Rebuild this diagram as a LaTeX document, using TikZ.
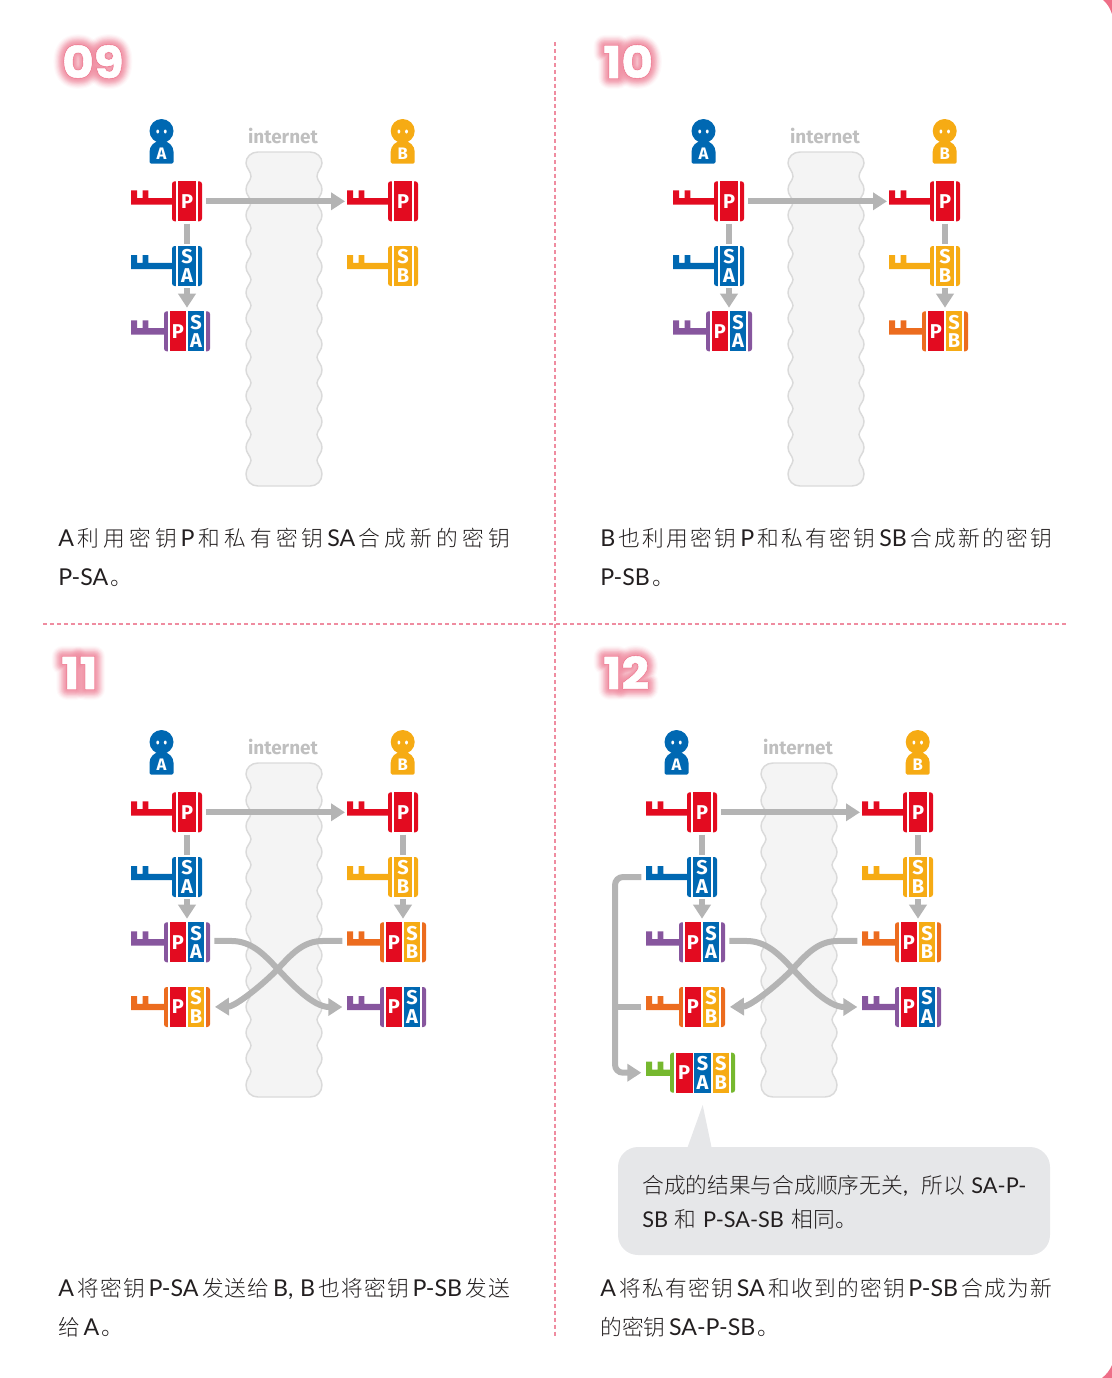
\documentclass[tikz,border=0pt]{standalone}
\usepackage{fontspec}
\usetikzlibrary{arrows.meta}
\setmainfont{Noto Sans CJK SC Light}
\newfontfamily\keyfont{Fira Sans}
\newfontfamily\numfont{Poppins}
\newfontfamily\latfont{Lato}
\XeTeXlinebreaklocale "zh"
\XeTeXlinebreakskip=0pt plus 12pt

\definecolor{kred}{HTML}{E30B20}
\definecolor{kblue}{HTML}{0068B2}
\definecolor{kyellow}{HTML}{F6AB14}
\definecolor{kpurple}{HTML}{87569E}
\definecolor{korange}{HTML}{EC6C1F}
\definecolor{kgreen}{HTML}{76B82F}
\definecolor{flowgray}{HTML}{B4B4B4}
\definecolor{cloudfill}{HTML}{F4F4F4}
\definecolor{cloudline}{HTML}{DADADA}
\definecolor{dashpink}{HTML}{EF8CA0}
\definecolor{cornerpink}{HTML}{EE6F88}
\definecolor{bubblegray}{HTML}{E6E7E9}
\definecolor{inktext}{HTML}{231F20}

\tikzset{
  keyhead/.style={inner sep=0pt, minimum height=30pt, rounded corners=2pt},
  keyseg/.style={inner sep=0pt, minimum height=30pt, text=white, align=center,
    font=\keyfont\bfseries\fontsize{15}{14}\selectfont},
  flowline/.style={draw=flowgray, line width=4.5pt},
  flowarrow/.style={flowline, -{Triangle[length=10.5pt,width=12.8pt]}},
  bodytext/.style={inner sep=0pt, anchor=base west, text=inktext,
    font=\fontsize{16.3}{16.3}\selectfont},
  nettext/.style={inner sep=0pt, text=flowgray!85,
    font=\keyfont\bfseries\fontsize{14.2}{14.2}\selectfont},
  persontext/.style={inner sep=0pt, text=white,
    font=\keyfont\bfseries\fontsize{12.5}{12.5}\selectfont},
  numtext/.style={inner sep=0pt, anchor=base west,
    font=\numfont\bfseries\fontsize{33}{33}\selectfont\addfontfeature{FakeStretch=1.1,FakeBold=#1}},
}

\newcommand{\mykey}[9]{
  \begin{scope}[shift={(#2,#3)}]
    \coordinate (#1-bit) at (0,0);
    \fill[#4] (0,3.2) -- (0,-11) -- (6,-11) -- (6,-3.2) -- (11.7,-3.2) -- (11.7,-11)
      -- (17.3,-11) -- (17.3,-3.2) -- (#5+1,-3.2) -- (#5+1,3.2) -- cycle;
    \node[keyhead, fill=#4, minimum width=#6*0.75pt] (#1) at (#5+#6/2,0) {};
    \fill[white] ({#5+#6/2-(#8*#7+(#8+1)*1.6)/2},-20.5) rectangle ({#5+#6/2+(#8*#7+(#8+1)*1.6)/2},20.5);
    \foreach \segcol/\segtxt [count=\segi] in {#9}
      \node[keyseg, fill=\segcol, minimum width=#7*0.75pt] (#1-\segi)
        at ({#5+#6/2+(\segi-(#8+1)/2)*(#7+1.6)},0) {\segtxt};
  \end{scope}
}
\newcommand{\keyone}[5]{\mykey{#1}{#2}{#3}{#4}{41}{30}{18.7}{1}{#5}}
\newcommand{\keytwo}[5]{\mykey{#1}{#2}{#3}{#4}{33}{46}{16.6}{2}{#5}}
\newcommand{\keythree}[5]{\mykey{#1}{#2}{#3}{#4}{24}{65}{16.8}{3}{#5}}

\newcommand{\person}[4]{
  \begin{scope}[shift={(#2,0)}]
    \fill[#3] (0,131) circle (12);
    \fill[#3, rounded corners=1pt] (-12,163.5) -- (-12,153) .. controls (-12,146) and (-7,141) .. (0,141)
      .. controls (7,141) and (12,146) .. (12,153) -- (12,163.5) -- cycle;
    \fill[white] (-3.8,131.5) ellipse (1.4 and 2) (3.8,131.5) ellipse (1.4 and 2);
    \node[persontext] (#1) at (0,154) {#4};
  \end{scope}
}

\newcommand{\cloudbox}{
  \draw[draw=cloudline, fill=cloudfill, line width=1.1pt]
    (258,152) -- (310,152) .. controls (317,152) and (322,157) .. (322,163)
    .. controls (322,168) and (317,171) .. (317,176.5)
    \foreach \k in {0,...,10}{
      .. controls (317.5,{176.5+\k*25.8+5}) and (322,{176.5+\k*25.8+7}) .. (322,{176.5+\k*25.8+12.9})
      .. controls (322,{176.5+\k*25.8+19}) and (317.5,{176.5+\k*25.8+21}) .. (317,{176.5+\k*25.8+25.8})
    }
    .. controls (317,464) and (322,468) .. (322,474) .. controls (322,481) and (317,486) .. (310,486)
    -- (258,486) .. controls (251,486) and (246,481) .. (246,474)
    .. controls (246,468) and (251,464) .. (251,460.3)
    \foreach \k in {0,...,10}{
      .. controls (250.5,{460.3-\k*25.8-5}) and (246,{460.3-\k*25.8-7}) .. (246,{460.3-\k*25.8-12.9})
      .. controls (246,{460.3-\k*25.8-19}) and (250.5,{460.3-\k*25.8-21}) .. (251,{460.3-\k*25.8-25.8})
    }
    .. controls (251,171) and (246,168) .. (246,163) .. controls (246,157) and (251,152) .. (258,152) -- cycle;
}

% cloud, people and the keys every panel has
\newcommand{\panelbase}[1]{
  \cloudbox
  \node[nettext] (#1-net) at (283,136) {internet};
  \person{#1-pa}{161.5}{kblue}{A}
  \person{#1-pb}{402.7}{kyellow}{B}
  \keyone{#1-ap}{131}{201.3}{kred}{kred/P}
  \keyone{#1-asa}{131}{266}{kblue}{kblue/{S\\A}}
  \keyone{#1-bp}{347}{201.3}{kred}{kred/P}
  \keyone{#1-bsb}{347}{266}{kyellow}{kyellow/{S\\B}}
  \keytwo{#1-apsa}{131}{331.3}{kpurple}{kred/P,kblue/{S\\A}}
  \draw[flowarrow, shorten <=3pt, shorten >=1.5pt] (#1-ap.east) -- (#1-bp-bit);
  \draw[flowline, shorten <=1.5pt, shorten >=1.5pt] (#1-ap.south) -- (#1-asa.north);
  \draw[flowarrow, shorten <=1.5pt, shorten >=2.5pt] (#1-asa.south) -- (#1-apsa.north);
}
\newcommand{\panelright}[1]{
  \keytwo{#1-bpsb}{347}{331.3}{korange}{kred/P,kyellow/{S\\B}}
  \draw[flowline, shorten <=1.5pt, shorten >=1.5pt] (#1-bp.south) -- (#1-bsb.north);
  \draw[flowarrow, shorten <=1.5pt, shorten >=2.5pt] (#1-bsb.south) -- (#1-bpsb.north);
}
\newcommand{\panelcross}[1]{
  \keytwo{#1-apsb}{131}{396}{korange}{kred/P,kyellow/{S\\B}}
  \keytwo{#1-bpsa}{347}{396}{kpurple}{kred/P,kblue/{S\\A}}
  \coordinate (#1-mid) at (277.7,358);
  \draw[flowarrow, shorten <=3pt, shorten >=3.5pt] ([yshift=1pt]#1-apsa.east) -- ++(21,0)
    .. controls +(20,0) and +(-14,-15) .. (#1-mid) .. controls +(14,15) and +(-34,0) .. (#1-bpsa-bit);
  \draw[flowarrow, shorten <=3.5pt, shorten >=3.5pt] ([yshift=1pt]#1-bpsb-bit) -- ++(-24,0)
    .. controls +(-20,0) and +(14,-15) .. (#1-mid) .. controls +(-14,15) and +(25,-0.5) .. (#1-apsb.east);
}
\newcommand{\numtitle}[4]{
  \begin{scope}[line join=round]
    \foreach \glowb in {50,45,40,35,30,26,22,18,14,10,6}
      \node[numtext=\glowb, text=dashpink, opacity=0.05+0.006*(50-\glowb)] at (#2,#3) {#4};
    \node[numtext=3.6, text=cornerpink] at (#2,#3) {#4};
    \node[numtext=1.2, text=white] (#1) at (#2,#3) {#4};
  \end{scope}
}
\newcommand{\la}[1]{{\latfont\fontsize{17.4}{16.3}\selectfont #1}}
\newcommand{\lc}[1]{{\latfont #1}}
\newcommand{\fullline}[1]{\parbox[t]{339pt}{\parfillskip=0pt\relax #1}}

\begin{document}
\begin{tikzpicture}[x=0.75pt, y=-0.75pt]
  \useasboundingbox (0,0) rectangle (1112,1378);

  \fill[cornerpink] (1103,0) .. controls (1107,3) and (1110,8) .. (1112,14) -- (1112,0) -- cycle;
  \fill[cornerpink] (1102,1378) .. controls (1106,1375) and (1110,1370) .. (1112,1365) -- (1112,1378) -- cycle;

  \draw[dashpink, line width=1pt, dash pattern=on 3pt off 2.2pt] (555,42) -- (555,1338);
  \draw[dashpink, line width=1pt, dash pattern=on 3pt off 2.2pt] (43,624) -- (1068,624);

  % 09
  \numtitle{n9}{62}{78}{09}
  \panelbase{s9}
  \node[bodytext] (t9a) at (58,546.5) {\fullline{\la{A}\,利用密钥\,\la{P}\,和私有密钥\,\la{SA}\,合成新的密钥}};
  \node[bodytext] (t9b) at (58,585) {\la{P-SA}\hspace{2pt}。};

  % 10
  \numtitle{n10}{603}{78}{10}
  \begin{scope}[shift={(542,0)}]
    \panelbase{s10}
    \panelright{s10}
  \end{scope}
  \node[bodytext] (t10a) at (600,546.5) {\fullline{\la{B}\,也利用密钥\,\la{P}\,和私有密钥\,\la{SB}\,合成新的密钥}};
  \node[bodytext] (t10b) at (600,585) {\la{P-SB}\hspace{2pt}。};

  % 11
  \numtitle{n11}{61}{689}{11}
  \begin{scope}[shift={(0,611)}]
    \panelbase{s11}
    \panelright{s11}
    \panelcross{s11}
  \end{scope}
  \node[bodytext] (t11a) at (58,1296.5) {\fullline{\la{A}\,将密钥\,\la{P-SA}\,发送给\,\la{B,}\hspace{5pt}\la{B}\,也将密钥\,\la{P-SB}\,发送}};
  \node[bodytext] (t11b) at (58,1335) {给\,\la{A}\hspace{2pt}。};

  % 12
  \numtitle{n12}{603}{689}{12}
  \begin{scope}[shift={(515,611)}]
    \panelbase{s12}
    \panelright{s12}
    \panelcross{s12}
    \keythree{s12-apsab}{131}{461.7}{kgreen}{kred/P,kblue/{S\\A},kyellow/{S\\B}}
    \coordinate (s12-rail) at (100,396);
    \draw[flowarrow, rounded corners=6pt, shorten <=3.5pt, shorten >=3.5pt] (s12-asa-bit) -- ++(-31,0) |- (s12-apsab-bit);
    \draw[flowline, shorten <=3.5pt] (s12-apsb-bit) -- (s12-rail);
  \end{scope}
  \node[fill=bubblegray, inner sep=0pt, minimum width=324pt, minimum height=81pt, rounded corners=15pt] (bubble) at (834,1201) {};
  \fill[bubblegray] (702.7,1105) -- (711.7,1148) -- (687.3,1148) -- cycle;
  \node[bodytext] (t12c) at (642,1193) {合成的结果与合成顺序无关\lc{,}\hspace{10pt}所以\hspace{5pt}\lc{SA-P-}};
  \node[bodytext] (t12d) at (642,1227.5) {\lc{SB}\hspace{5pt}和\hspace{5pt}\lc{P-SA-SB}\hspace{6pt}相同。};
  \node[bodytext] (t12a) at (600,1296.5) {\fullline{\la{A}\,将私有密钥\,\la{SA}\,和收到的密钥\,\la{P-SB}\,合成为新}};
  \node[bodytext] (t12b) at (600,1335) {的密钥\,\la{SA-P-SB}\hspace{2pt}。};
\end{tikzpicture}
\end{document}
